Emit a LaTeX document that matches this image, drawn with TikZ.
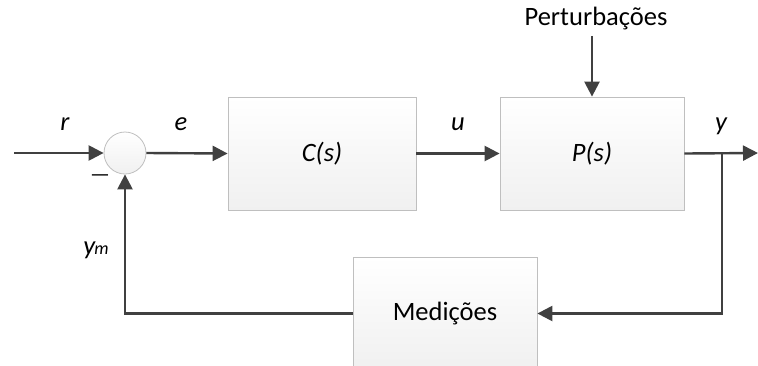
\documentclass[tikz,border=0pt]{standalone}
\usepackage{fontspec}
\setmainfont{Carlito}
\definecolor{LineGray}{RGB}{64, 64, 64}
\definecolor{BoxBorder}{RGB}{191, 191, 191}
\definecolor{BoxShade}{RGB}{240, 240, 240}
\usetikzlibrary{arrows.meta, positioning, calc}

\tikzset{
  block/.style={draw=BoxBorder, line width=0.8pt, top color=white, bottom color=BoxShade, minimum height=113pt, font=\fontsize{26.5}{31}\selectfont},
  sumnode/.style={circle, draw=BoxBorder, line width=0.8pt, top color=white, bottom color=BoxShade, minimum size=42pt, inner sep=0pt},
  signal/.style={draw=LineGray, line width=2.4pt, -{Triangle[length=15pt, width=15pt]}},
  lbl/.style={font=\fontsize{26.5}{31}\selectfont\itshape}
}

\begin{document}
\begin{tikzpicture}[x=1pt, y=-1pt]
    \useasboundingbox (0,0) rectangle (758,365);

    % blocks
    \node[block, minimum width=188pt] (ctrl) at (322,153.5) {\textit{C(s)}};
    \node[block, minimum width=184pt] (plant) at (592,153.5) {\textit{P(s)}};
    \node[block, minimum width=184pt] (meas) at (445,313.5) {Medições};
    \node[sumnode] (sum) at (125,153) {};

    % free ends
    \coordinate (in) at (14,153);
    \coordinate (out) at (758,153);
    \coordinate (branch) at (722,153);
    \node[font=\fontsize{26.5}{31}\selectfont] (dist) at (596,19) {Perturbações};

    % forward path
    \draw[signal] (in) -- (sum.west);
    \draw[signal] (sum.east) -- (ctrl.west);
    \draw[signal] (ctrl.east) -- (plant.west);
    \draw[signal] (plant.east) -- (out);
    \draw[signal] (dist.south -| plant.north) ++(0,2) -- (plant.north);

    % feedback path
    \draw[signal] (branch) |- (meas.east);
    \draw[signal] (meas.west) -| (sum.south);

    % labels
    \node[lbl] (rlbl) at (65,124) {r};
    \node[lbl] (elbl) at (181,124) {e};
    \node[lbl] (ulbl) at (458,124) {u};
    \node[lbl] (ylbl) at (721,126) {y};
    \node[lbl] (ymlbl) at (96,250) {y\kern-1pt{\fontsize{18}{21}\selectfont m}};
    \node[font=\fontsize{22}{26}\selectfont] (minus) at (100,178) {\textemdash};
\end{tikzpicture}
\end{document}
